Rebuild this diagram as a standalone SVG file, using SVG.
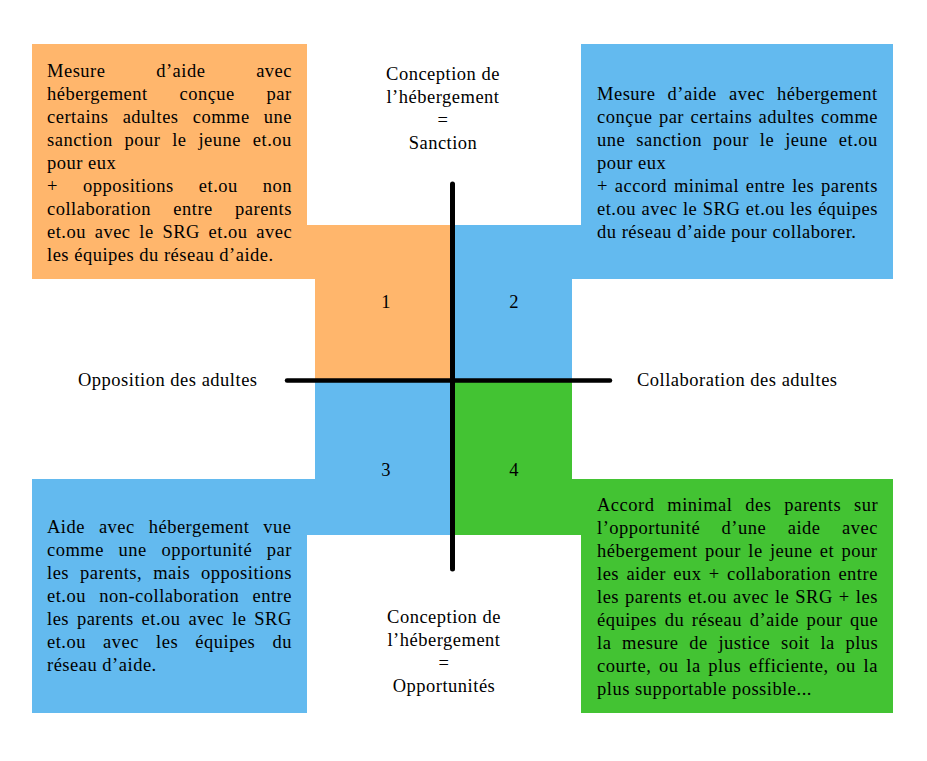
<svg xmlns="http://www.w3.org/2000/svg" width="927" height="761" viewBox="0 0 927 761">
<style>
text{font-family:"Liberation Serif","Times New Roman",serif;font-size:18.5px;letter-spacing:0.5px;fill:#000}
.c{text-anchor:middle}
.orange{fill:#ffb66c}
.blue{fill:#63baef}
.green{fill:#43c333}
.axis{stroke:#000;fill:none;stroke-linecap:round}
</style>
<rect width="927" height="761" fill="#fff"/>
<g id="q1">
<path class="orange" d="M32,44 H307 V225 H452.5 V380.5 H315 V279 H32 Z"/>
<text x="47" y="77" style="word-spacing:45.6px">Mesure d’aide avec</text>
<text x="47" y="100" style="word-spacing:26.6px">hébergement conçue par</text>
<text x="47" y="123" style="word-spacing:9px">certains adultes comme une</text>
<text x="47" y="146" style="word-spacing:6.7px">sanction pour le jeune et.ou</text>
<text x="47" y="169">pour eux</text>
<text x="47" y="192" style="word-spacing:19.9px">+ oppositions et.ou non</text>
<text x="47" y="215" style="word-spacing:17.1px">collaboration entre parents</text>
<text x="47" y="238" style="word-spacing:3.6px">et.ou avec le SRG et.ou avec</text>
<text x="47" y="261">les équipes du réseau d’aide.</text>
<text class="c" x="386" y="308">1</text>
</g>
<g id="q2">
<path class="blue" d="M581,44 H893 V279 H572 V380.5 H452.5 V225 H581 Z"/>
<text x="597" y="100" style="word-spacing:7px">Mesure d’aide avec hébergement</text>
<text x="597" y="123" style="word-spacing:1.4px">conçue par certains adultes comme</text>
<text x="597" y="146" style="word-spacing:5.9px">une sanction pour le jeune et.ou</text>
<text x="597" y="169">pour eux</text>
<text x="597" y="192" style="word-spacing:1.7px">+ accord minimal entre les parents</text>
<text x="597" y="215" style="word-spacing:0.4px">et.ou avec le SRG et.ou les équipes</text>
<text x="597" y="238">du réseau d’aide pour collaborer.</text>
<text class="c" x="514" y="308">2</text>
</g>
<g id="q3">
<path class="blue" d="M315,380.5 H452.5 V535 H307 V713 H32 V479 H315 Z"/>
<text x="47" y="533" style="word-spacing:8.8px">Aide avec hébergement vue</text>
<text x="47" y="556" style="word-spacing:9.5px">comme une opportunité par</text>
<text x="47" y="579" style="word-spacing:5.9px">les parents, mais oppositions</text>
<text x="47" y="602" style="word-spacing:8.1px">et.ou non-collaboration entre</text>
<text x="47" y="625" style="word-spacing:2.7px">les parents et.ou avec le SRG</text>
<text x="47" y="648" style="word-spacing:12px">et.ou avec les équipes du</text>
<text x="47" y="671">réseau d’aide.</text>
<text class="c" x="386" y="476">3</text>
</g>
<g id="q4">
<path class="green" d="M452.5,380.5 H572 V479 H893 V713 H581 V535 H452.5 Z"/>
<text x="597" y="511" style="word-spacing:7.7px">Accord minimal des parents sur</text>
<text x="597" y="534" style="word-spacing:16.4px">l’opportunité d’une aide avec</text>
<text x="597" y="557" style="word-spacing:2.2px">hébergement pour le jeune et pour</text>
<text x="597" y="580" style="word-spacing:2.2px">les aider eux + collaboration entre</text>
<text x="597" y="603" style="word-spacing:0.9px">les parents et.ou avec le SRG + les</text>
<text x="597" y="626" style="word-spacing:2.5px">équipes du réseau d’aide pour que</text>
<text x="597" y="649" style="word-spacing:5.6px">la mesure de justice soit la plus</text>
<text x="597" y="672" style="word-spacing:2.6px">courte, ou la plus efficiente, ou la</text>
<text x="597" y="695">plus supportable possible...</text>
<text class="c" x="514" y="476">4</text>
</g>
<g id="label-top">
<text class="c" x="443" y="80">Conception de</text>
<text class="c" x="443" y="103">l’hébergement</text>
<text class="c" x="443" y="126">=</text>
<text class="c" x="443" y="149">Sanction</text>
</g>
<g id="label-bottom">
<text class="c" x="444" y="623">Conception de</text>
<text class="c" x="444" y="646">l’hébergement</text>
<text class="c" x="444" y="669">=</text>
<text class="c" x="444" y="692">Opportunités</text>
</g>
<g id="label-left">
<text x="78" y="386">Opposition des adultes</text>
</g>
<g id="label-right">
<text x="637" y="386">Collaboration des adultes</text>
</g>
<g id="connectors">
<line class="axis" x1="452.5" y1="184" x2="452.5" y2="569" stroke-width="5"/>
<line class="axis" x1="287" y1="380.5" x2="610" y2="380.5" stroke-width="4.5"/>
</g>
</svg>
